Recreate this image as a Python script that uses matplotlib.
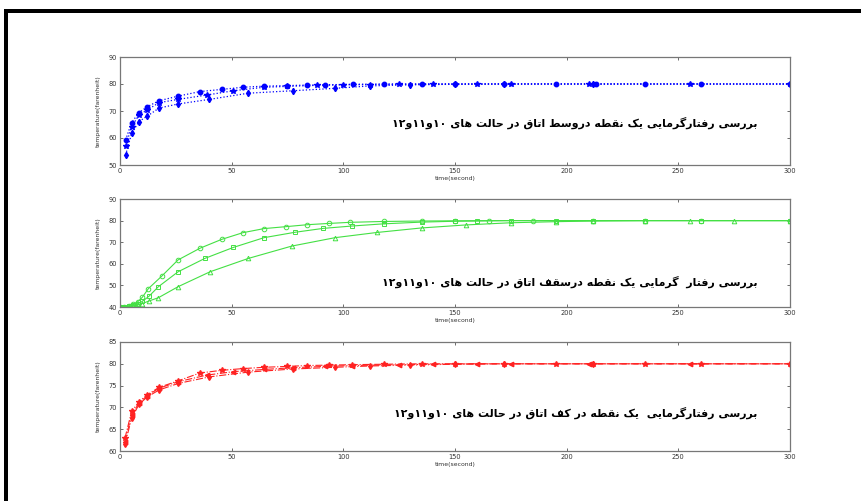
import re
import matplotlib
matplotlib.use("Agg")
import matplotlib.pyplot as plt
from matplotlib.patches import Rectangle

# ---------------- data ----------------
blue_tA = [2.5, 5.2, 8.5, 12.2, 17.5, 26, 35.8, 45.5, 55, 64.5, 74.6, 83.6, 91.8, 104.5, 118, 135, 150, 172, 195, 213, 235, 260, 300]
blue_vA = [59.3, 65.7, 69.4, 71.6, 73.8, 75.5, 77.2, 78.0, 78.8, 79.2, 79.4, 79.6, 79.7, 79.9, 80.0, 80.0, 80.0, 80.0, 80.0, 80.0, 80.0, 80.0, 80.0]
blue_tB = [2.5, 5.2, 8.5, 12.2, 17.5, 26, 38.8, 50.8, 64.5, 74.6, 88, 100, 112, 125, 140, 160, 175, 210, 255, 300]
blue_vB = [57.0, 64.2, 68.5, 70.4, 73.1, 74.3, 75.9, 77.5, 78.8, 79.1, 79.5, 79.7, 79.8, 79.9, 80.0, 80.0, 80.0, 80.0, 80.0, 80.0]
blue_tC = [2.5, 5.2, 8.5, 12.2, 17.5, 26, 40, 57.5, 77.3, 96.3, 112, 130, 150, 172, 212, 300]
blue_vC = [53.7, 61.7, 66.1, 68.1, 71.1, 72.6, 74.3, 76.6, 77.5, 78.4, 79.3, 79.7, 79.9, 80.0, 80.0, 80.0]

green_t1 = [0, 2, 4, 6, 8, 10, 12.7, 18.7, 26, 35.8, 45.5, 55, 64.5, 74.3, 83.9, 93.7, 103, 118, 135, 150, 165, 185, 212, 235, 260, 300]
green_v1 = [40, 40.2, 40.6, 41.3, 42.5, 44.5, 48.5, 54.3, 61.8, 67.2, 71.3, 74.4, 76.3, 77.2, 78.1, 78.7, 79.2, 79.6, 79.8, 79.9, 80, 80, 80, 80, 80, 80]
green_t2 = [0, 2, 4, 6, 8, 10, 13, 17.2, 26, 38, 50.8, 64.5, 78.4, 91, 104, 118, 135, 150, 160, 175, 195, 212, 235, 260, 300]
green_v2 = [40, 40.1, 40.4, 40.9, 41.6, 42.6, 45, 49.4, 56.3, 62.5, 67.6, 72.1, 74.6, 76.4, 77.5, 78.5, 79.3, 79.7, 79.8, 80, 80, 80, 80, 80, 80]
green_t3 = [0, 2, 4, 6, 8, 10, 13, 17.2, 26, 40.3, 57.5, 76.9, 96.3, 115, 135, 155, 175, 195, 212, 235, 255, 275, 300]
green_v3 = [40, 40.05, 40.2, 40.5, 41, 41.6, 42.8, 44.3, 49.4, 56.3, 62.5, 68.2, 72.1, 74.5, 76.6, 78.0, 79.0, 79.5, 79.8, 80, 80, 80, 80]

red_t1 = [2.2, 5.2, 8.5, 12.2, 17.5, 26.1, 35.8, 45.5, 55, 64.5, 74.6, 83.6, 93.7, 104, 118, 135, 150, 172, 195, 212, 235, 260, 300]
red_v1 = [62.9, 69.1, 71.3, 72.9, 74.6, 76.1, 77.9, 78.5, 78.9, 79.2, 79.4, 79.6, 79.7, 79.8, 79.9, 80, 80, 80, 80, 80, 80, 80, 80]
red_t2 = [2.2, 5.2, 8.5, 12.2, 17.5, 26.1, 38.8, 50.8, 64.5, 77.3, 91.8, 104, 125, 140, 160, 175, 210, 255, 300]
red_v2 = [62.1, 68.3, 71.0, 72.7, 74.4, 75.9, 77.4, 78.2, 78.7, 79.1, 79.4, 79.6, 79.8, 79.9, 80, 80, 80, 80, 80]
red_t3 = [2.2, 5.2, 8.5, 12.2, 17.5, 26.1, 40, 57.5, 77.3, 96.3, 112, 130, 150, 172, 212, 300]
red_v3 = [61.5, 67.5, 70.7, 72.4, 74.0, 75.5, 77.0, 78.1, 78.8, 79.2, 79.5, 79.7, 79.9, 80, 80, 80]

x_ticks = [0, 50, 100, 150, 200, 250, 300]
top_yticks = [50, 60, 70, 80, 90]
mid_yticks = [40, 50, 60, 70, 80, 90]
bot_yticks = [60, 65, 70, 75, 80, 85]

xlabel_text = "time(second)"
ylabel_text = "temperature(farenheit)"
notes = [
    "بررسی رفتارگرمایی یک نقطه دروسط اتاق در حالت های ۱۰و۱۱و۱۲",
    "بررسی رفتار  گرمایی یک نقطه درسقف اتاق در حالت های ۱۰و۱۱و۱۲",
    "بررسی رفتارگرمایی  یک نقطه در کف اتاق در حالت های ۱۰و۱۱و۱۲",
]

# ---------------- simple Arabic/Persian shaping ----------------
FORMS = {
    "\u0627": ("\uFE8D", "\uFE8E"),
    "\u0628": ("\uFE8F", "\uFE90", "\uFE91", "\uFE92"),
    "\u062A": ("\uFE95", "\uFE96", "\uFE97", "\uFE98"),
    "\u062D": ("\uFEA1", "\uFEA2", "\uFEA3", "\uFEA4"),
    "\u062F": ("\uFEA9", "\uFEAA"),
    "\u0631": ("\uFEAD", "\uFEAE"),
    "\u0633": ("\uFEB1", "\uFEB2", "\uFEB3", "\uFEB4"),
    "\u0637": ("\uFEC1", "\uFEC2", "\uFEC3", "\uFEC4"),
    "\u0641": ("\uFED1", "\uFED2", "\uFED3", "\uFED4"),
    "\u0642": ("\uFED5", "\uFED6", "\uFED7", "\uFED8"),
    "\u0644": ("\uFEDD", "\uFEDE", "\uFEDF", "\uFEE0"),
    "\u0645": ("\uFEE1", "\uFEE2", "\uFEE3", "\uFEE4"),
    "\u0646": ("\uFEE5", "\uFEE6", "\uFEE7", "\uFEE8"),
    "\u0647": ("\uFEE9", "\uFEEA", "\uFEEB", "\uFEEC"),
    "\u0648": ("\uFEED", "\uFEEE"),
    "\u06CC": ("\uFBFC", "\uFBFD", "\uFBFE", "\uFBFF"),
    "\u06A9": ("\uFB8E", "\uFB8F", "\uFB90", "\uFB91"),
    "\u06AF": ("\uFB92", "\uFB93", "\uFB94", "\uFB95"),
}


def shape_rtl(s):
    def joins_left(c):
        return c in FORMS and len(FORMS[c]) == 4
    out = []
    for i, c in enumerate(s):
        if c not in FORMS:
            out.append(c)
            continue
        prev = s[i - 1] if i > 0 else ""
        nxt = s[i + 1] if i + 1 < len(s) else ""
        jp = joins_left(prev)
        jn = joins_left(c) and nxt in FORMS
        f = FORMS[c]
        if jp and jn:
            g = f[3]
        elif jp:
            g = f[1]
        elif jn:
            g = f[2]
        else:
            g = f[0]
        out.append(g)
    vis = "".join(out)[::-1]
    vis = re.sub(r"[0-9\u06F0-\u06F9]+", lambda m: m.group(0)[::-1], vis)
    return vis


# ---------------- figure ----------------
fig = plt.figure(figsize=(8.61, 5.01), dpi=100)
fig.patch.set_facecolor("white")

# document border (top and left black lines)
fig.add_artist(Rectangle((4 / 861, 1 - 13 / 501), 1.0, 4 / 501, transform=fig.transFigure,
                         facecolor="black", edgecolor="none"))
fig.add_artist(Rectangle((4 / 861, 0), 3.5 / 861, 1 - 9 / 501, transform=fig.transFigure,
                         facecolor="black", edgecolor="none"))

left, width = 120 / 861, 670 / 861
positions = [
    (left, 1 - 165 / 501, width, 108 / 501),
    (left, 1 - 307 / 501, width, 108 / 501),
    (left, 1 - 451 / 501, width, 109 / 501),
]
ylims = [(50, 90), (40, 90), (60, 85)]
yticks_all = [top_yticks, mid_yticks, bot_yticks]
note_y = [0.39, 0.23, 0.35]

axes = [fig.add_axes(p) for p in positions]

# top: blue dotted
ax = axes[0]
ax.plot(blue_tA, blue_vA, ':', color="#0000ff", lw=0.9, marker="o", ms=3.2)
ax.plot(blue_tB, blue_vB, ':', color="#0000ff", lw=0.9, marker="*", ms=4.2)
ax.plot(blue_tC, blue_vC, ':', color="#0000ff", lw=0.9, marker="d", ms=3.2)

# middle: green solid with open markers
ax = axes[1]
ax.plot(green_t1, green_v1, '-', color="#44e044", lw=0.8, marker="o", ms=3.3, mfc="none", mew=0.7)
ax.plot(green_t2, green_v2, '-', color="#44e044", lw=0.8, marker="s", ms=3.3, mfc="none", mew=0.7)
ax.plot(green_t3, green_v3, '-', color="#44e044", lw=0.8, marker="^", ms=3.3, mfc="none", mew=0.7)

# bottom: red dash-dot
ax = axes[2]
ax.plot(red_t1, red_v1, '-.', color="#ff2222", lw=0.8, marker="*", ms=4)
ax.plot(red_t2, red_v2, '-.', color="#ff2222", lw=0.8, marker="<", ms=3.2)
ax.plot(red_t3, red_v3, '-.', color="#ff2222", lw=0.8, marker="d", ms=3)

for ax, yl, yt, ny, note in zip(axes, ylims, yticks_all, note_y, notes):
    ax.set_xlim(0, 300)
    ax.set_ylim(*yl)
    ax.set_xticks(x_ticks)
    ax.set_yticks(yt)
    ax.tick_params(direction="in", top=True, right=True, length=2.5, width=0.5,
                   labelsize=4.8, colors="#333333", pad=2)
    for sp in ax.spines.values():
        sp.set_color("#777777")
        sp.set_linewidth(0.9)
    ax.set_xlabel(xlabel_text, fontsize=4.4, color="#333333", labelpad=1.5)
    ax.set_ylabel(ylabel_text, fontsize=4.4, color="#333333", labelpad=6)
    ax.text(0.952, ny, shape_rtl(note), transform=ax.transAxes, ha="right", va="center",
            fontsize=7.9, fontweight="bold", color="black", family=["DejaVu Sans"])

fig.savefig("out.png", dpi=100, facecolor="white")
